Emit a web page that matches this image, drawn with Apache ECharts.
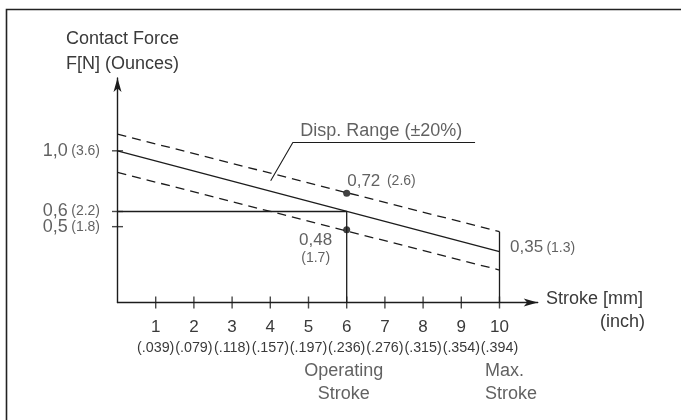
<!DOCTYPE html>
<html>
<head>
<meta charset="utf-8">
<script src="https://cdn.jsdelivr.net/npm/echarts@6/dist/echarts.min.js"></script>
<style>html,body{margin:0;padding:0;background:#fff}#c{width:681px;height:420px}</style>
</head>
<body>
<div id="c"></div>
<script>
// ---- data ----
const xTickValues = [1, 2, 3, 4, 5, 6, 7, 8, 9, 10];
const xTickLabels = ['1', '2', '3', '4', '5', '6', '7', '8', '9', '10'];
const xInchLabels = ['(.039)', '(.079)', '(.118)', '(.157)', '(.197)', '(.236)', '(.276)', '(.315)', '(.354)', '(.394)'];
const yTickValues = [0.5, 0.6, 1.0];
const yTickLabels = ['0,5', '0,6', '1,0'];
const yOunceLabels = ['(1.8)', '(2.2)', '(3.6)'];
const strokeEnds = [0, 10];
const nominalForce = [1.0, 0.335];
const upperForce = [1.11, 0.467];
const lowerForce = [0.858, 0.214];
const operatingStroke = 6;
const operatingForce = 0.6;
const maxStroke = 10;
const maxUpperForce = 0.467;
const markedStroke = [6, 6];
const markedForce = [0.72, 0.48];
const markedLabels = ['0,72', '0,48'];
const markedOunces = ['(2.6)', '(1.7)'];
const endLabel = '0,35';
const endOunces = '(1.3)';
const leaderX = [4.01, 4.59, 9.36];
const leaderY = [0.803, 1.055, 1.055];
const rangeLabel = 'Disp. Range (\u00B120%)';

// ---- chart ----
const FONT = 'Liberation Sans';
const TXT = '#3a3a3a';
const INK = '#1c1c1c';
const chart = echarts.init(document.getElementById('c'), null, {renderer: 'canvas'});
const pair = (xs, ys) => xs.map((x, i) => [x, ys[i]]);
const lineSeries = (data, dashed) => ({
  type: 'line', data, symbol: 'none', silent: true, animation: false,
  lineStyle: {color: INK, width: 1.3, type: dashed ? [9, 6] : 'solid'}
});

const option = {
  animation: false,
  textStyle: {fontFamily: FONT, color: TXT},
  title: {
    text: 'Contact Force\nF[N] (Ounces)', left: 61, top: 22,
    textStyle: {fontFamily: FONT, fontSize: 18, lineHeight: 25, fontWeight: 'normal', color: TXT}
  },
  graphic: [
    {type: 'rect', shape: {x: 6.5, y: 9.5, width: 900, height: 900}, style: {fill: 'none', stroke: '#222', lineWidth: 1.6}, silent: true},
    {type: 'text', left: 546, top: 290, style: {text: 'Stroke [mm]', font: '18px "Liberation Sans"', fill: TXT}},
    {type: 'text', right: 36, top: 313, style: {text: '(inch)', font: '18px "Liberation Sans"', fill: TXT}}
  ],
  grid: {left: 117.5, right: 143.3, top: 78, bottom: 117.5},
  xAxis: {
    type: 'value', min: 0, max: 11, interval: 1,
    axisLine: {show: true, symbol: ['none', 'arrow'], symbolSize: [6, 14], lineStyle: {color: INK, width: 1.4}},
    axisTick: {show: false}, splitLine: {show: false},
    axisLabel: {
      customValues: xTickValues, margin: 15, hideOverlap: false,
      formatter: v => { const i = xTickValues.indexOf(Math.round(v)); return '{n|' + xTickLabels[i] + '}\n{i|' + xInchLabels[i] + '}'; },
      rich: {
        n: {fontFamily: FONT, fontSize: 17, lineHeight: 20, color: TXT, align: 'center'},
        i: {fontFamily: FONT, fontSize: 14.3, lineHeight: 22, color: TXT, align: 'center'}
      }
    }
  },
  yAxis: {
    type: 'value', min: 0, max: 1.48,
    axisLine: {show: true, symbol: ['none', 'arrow'], symbolSize: [6, 14], lineStyle: {color: INK, width: 1.4}},
    axisTick: {show: false}, splitLine: {show: false}, axisLabel: {show: false}
  },
  series: [
    lineSeries(pair(strokeEnds, nominalForce), false),
    lineSeries(pair(strokeEnds, upperForce), true),
    lineSeries(pair(strokeEnds, lowerForce), true),
    lineSeries([[0, operatingForce], [operatingStroke, operatingForce]], false),
    lineSeries([[operatingStroke, 0], [operatingStroke, operatingForce]], false),
    lineSeries([[maxStroke, 0], [maxStroke, maxUpperForce]], false),
    Object.assign(lineSeries(pair(leaderX, leaderY), false), {lineStyle: {color: INK, width: 1.1}}),
    // axis ticks
    {
      type: 'scatter', silent: true, symbol: 'rect', symbolSize: [1.4, 12],
      itemStyle: {color: INK}, data: xTickValues.map(v => [v, 0])
    },
    {
      type: 'scatter', silent: true, symbol: 'rect', symbolSize: [11, 1.4],
      itemStyle: {color: INK},
      data: yTickValues.map((v, i) => ({
        value: [0, v],
        label: {show: true, position: 'left', distance: 12,
          formatter: '{b|' + yTickLabels[i] + '} {s|' + yOunceLabels[i] + '}'}
      })),
      labelLayout: {hideOverlap: false},
      label: {
        rich: {
          b: {fontFamily: FONT, fontSize: 18, color: TXT},
          s: {fontFamily: FONT, fontSize: 14, color: TXT}
        }
      }
    },
    // marked points
    {
      type: 'scatter', silent: true, symbol: 'circle', symbolSize: 7,
      itemStyle: {color: '#111'},
      data: [
        {value: [markedStroke[0], markedForce[0]], label: {show: true, position: 'right', distance: -3, offset: [0, -12],
          formatter: '{b|' + markedLabels[0] + '}  {s|' + markedOunces[0] + '}'}},
        {value: [markedStroke[1], markedForce[1]], label: {show: true, position: 'left', distance: 11, offset: [0, 19],
          formatter: '{b|' + markedLabels[1] + '}\n{s|' + markedOunces[1] + '}'}}
      ],
      label: {
        color: TXT,
        rich: {
          b: {fontFamily: FONT, fontSize: 17, lineHeight: 18, color: TXT, align: 'center'},
          s: {fontFamily: FONT, fontSize: 14, lineHeight: 16, color: TXT, align: 'center'}
        }
      }
    },
    // text annotations
    {
      type: 'scatter', silent: true, symbolSize: 1, itemStyle: {color: 'rgba(0,0,0,0)'},
      data: [
        {value: [strokeEnds[1], nominalForce[1]], label: {show: true, position: 'right', distance: 10, offset: [0, -4],
          formatter: '{b|' + endLabel + '} {s|' + endOunces + '}'}},
        {value: [leaderX[1], leaderY[1]], label: {show: true, position: 'right', distance: 7, offset: [0, -11.5],
          formatter: '{r|' + rangeLabel + '}'}},
        {value: [operatingStroke, 0], label: {show: true, position: 'bottom', distance: 57, offset: [-3, 0],
          formatter: '{c|Operating}\n{c|Stroke}'}},
        {value: [maxStroke, 0], label: {show: true, position: 'bottom', distance: 57, offset: [11.5, 0],
          formatter: '{l|Max.}\n{l|Stroke}'}}
      ],
      label: {
        color: TXT,
        rich: {
          b: {fontFamily: FONT, fontSize: 17, color: TXT},
          s: {fontFamily: FONT, fontSize: 14, color: TXT},
          r: {fontFamily: FONT, fontSize: 18, color: TXT},
          c: {fontFamily: FONT, fontSize: 18, lineHeight: 23, color: TXT, align: 'center'},
          l: {fontFamily: FONT, fontSize: 18, lineHeight: 23, color: TXT, align: 'left'}
        }
      }
    }
  ]
};
chart.setOption(option);
</script>
</body>
</html>
